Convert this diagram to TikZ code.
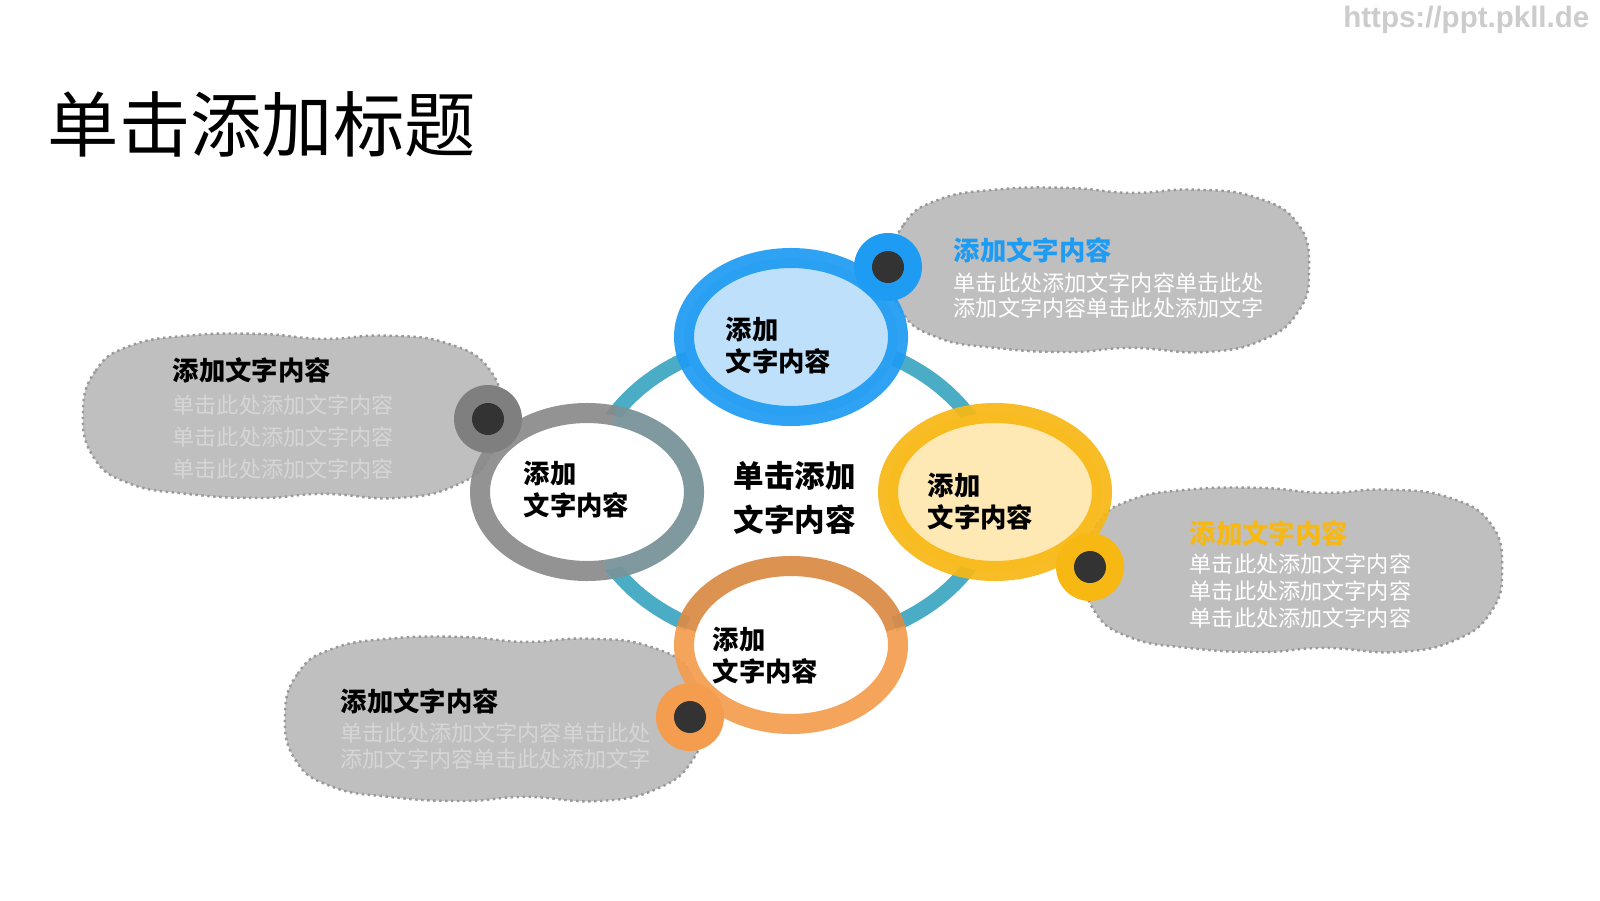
\documentclass[tikz,border=0pt]{standalone}
\usepackage{fontspec}
\setmainfont{Noto Sans CJK SC}
\newfontfamily\urlfont{Liberation Sans}
\usetikzlibrary{positioning,shapes.geometric}
\definecolor{cblue}{HTML}{1E9BF3}
\definecolor{cbluelt}{HTML}{BEE0FB}
\definecolor{cgray}{HTML}{8A8A8A}
\definecolor{cknob}{HTML}{7F7F7F}
\definecolor{cyellow}{HTML}{F8B814}
\definecolor{cyellowlt}{HTML}{FEE8B3}
\definecolor{corange}{HTML}{F59D4F}
\definecolor{cteal}{HTML}{4BACC6}
\definecolor{ccloud}{HTML}{BFBFBF}
\definecolor{cdot}{HTML}{333333}
\definecolor{cfaint}{HTML}{D6D6D6}

% grey speech cloud, centred at (#1,#2)
\newcommand{\cloudblob}[2]{%
  \filldraw[cloud,shift={(#1,#2)},xscale=2.09,yscale=0.82]
    plot[smooth cycle,tension=0.8] coordinates {
      (-1.00,0.05) (-0.94,0.55) (-0.78,0.85) (-0.50,0.98) (-0.15,1.00)
      (0.15,0.94) (0.45,0.98) (0.75,0.88) (0.95,0.55) (1.00,0.00)
      (0.95,-0.50) (0.78,-0.85) (0.50,-1.00) (0.15,-0.95) (-0.15,-1.00)
      (-0.50,-0.95) (-0.78,-0.82) (-0.95,-0.50)};}

\begin{document}
\begin{tikzpicture}[
  ring/.style={ellipse,line width=5.7pt,minimum width=2.14cm,minimum height=1.58cm,inner sep=0pt,draw opacity=0.92},
  link/.style={cteal,line width=4.3pt},
  cloud/.style={fill=ccloud,draw=black!40,densely dotted,line width=0.7pt},
  ctext/.style={font=\fontsize{7.5}{9}\selectfont\bfseries,align=left,anchor=west,inner sep=0pt},
  head/.style={font=\fontsize{7.5}{9}\selectfont\bfseries,anchor=west,inner sep=0pt},
  body/.style={align=left,anchor=west,inner sep=0pt},
  knob/.style={circle,minimum size=0.68cm,inner sep=0pt},
  hole/.style={circle,fill=cdot,minimum size=0.32cm,inner sep=0pt}]

  \useasboundingbox[fill=white] (0,0) rectangle (16,9);

  % Title and watermark
  \node[font=\fontsize{20.3}{24}\selectfont,anchor=west,inner sep=0pt] (title) at (0.47,7.76) {单击添加标题};
  \node[font=\urlfont\bfseries\fontsize{8.4}{10}\selectfont,text=black!20,anchor=east,inner sep=0pt] (url) at (15.9,8.8) {https://ppt.pkll.de};

  % Clouds
  \cloudblob{11.00}{6.30}
  \cloudblob{2.92}{4.84}
  \cloudblob{12.93}{3.30}
  \cloudblob{4.94}{1.81}

  % Centres of the four rings
  \coordinate (pblue) at (7.91,5.63);
  \coordinate (pgray) at (5.87,4.08);
  \coordinate (pyellow) at (9.95,4.08);
  \coordinate (porange) at (7.91,2.55);

  % Teal links
  \draw[link] (pblue) .. controls +(-1.13,0) and +(0,0.85) .. (pgray);
  \draw[link] (pblue) .. controls +(1.13,0) and +(0,0.85) .. (pyellow);
  \draw[link] (porange) .. controls +(-1.13,0) and +(0,-0.85) .. (pgray);
  \draw[link] (porange) .. controls +(1.13,0) and +(0,-0.85) .. (pyellow);

  % Rings
  \node[ring,draw=cblue,fill=cbluelt] (blue) at (pblue) {};
  \node[ring,draw=cgray,fill=white] (gray) at (pgray) {};
  \node[ring,draw=cyellow,fill=cyellowlt] (yellow) at (pyellow) {};
  \node[ring,draw=corange,fill=white] (orange) at (porange) {};
  \draw[line width=5.7pt,cteal,opacity=0.25] (gray.center) ++(75:1.07 and 0.79)
    arc[start angle=75,end angle=-80,x radius=1.07,y radius=0.79];
  \draw[line width=5.7pt,black,opacity=0.1] (orange.center) ++(168:1.07 and 0.79)
    arc[start angle=168,end angle=12,x radius=1.07,y radius=0.79];

  % Knobs
  \node[knob,fill=cblue] (kblue) at (8.88,6.33) {};
  \node[hole] (hblue) at (kblue) {};
  \node[knob,fill=cknob] (kgray) at (4.88,4.81) {};
  \node[hole] (hgray) at (kgray) {};
  \node[knob,fill=cyellow] (kyellow) at (10.90,3.33) {};
  \node[hole] (hyellow) at (kyellow) {};
  \node[knob,fill=corange] (korange) at (6.90,1.83) {};
  \node[hole] (horange) at (korange) {};

  % Ring labels
  \node[ctext] (tblue) at (7.25,5.545) {添加\\文字内容};
  \node[ctext] (tgray) at (5.23,4.105) {添加\\文字内容};
  \node[ctext] (tyellow) at (9.27,3.985) {添加\\文字内容};
  \node[ctext] (torange) at (7.12,2.445) {添加\\文字内容};
  \node[ctext,font=\fontsize{8.7}{12.5}\selectfont\bfseries] (middle) at (7.33,4.025) {单击添加\\文字内容};

  % Cloud texts
  \node[head,text=cblue] (hdblue) at (9.53,6.50) {添加文字内容};
  \node[body,text=white,font=\fontsize{6.3}{7.3}\selectfont] (bdblue) at (9.53,6.045)
    {单击此处添加文字内容单击此处\\添加文字内容单击此处添加文字};
  \node[head] (hdgray) at (1.72,5.30) {添加文字内容};
  \node[body,text=cfaint,font=\fontsize{6.3}{9.1}\selectfont] (bdgray) at (1.72,4.63)
    {单击此处添加文字内容\\单击此处添加文字内容\\单击此处添加文字内容};
  \node[head,text=cyellow] (hdyellow) at (11.89,3.67) {添加文字内容};
  \node[body,text=white,font=\fontsize{6.3}{7.7}\selectfont] (bdyellow) at (11.89,3.09)
    {单击此处添加文字内容\\单击此处添加文字内容\\单击此处添加文字内容};
  \node[head] (hdorange) at (3.40,1.99) {添加文字内容};
  \node[body,text=cfaint,font=\fontsize{6.3}{7.4}\selectfont] (bdorange) at (3.40,1.54)
    {单击此处添加文字内容单击此处\\添加文字内容单击此处添加文字};

\end{tikzpicture}
\end{document}
